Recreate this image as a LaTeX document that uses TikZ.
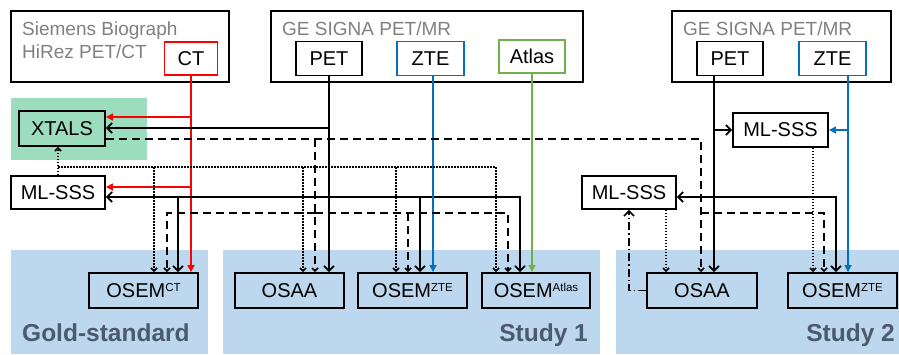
\documentclass[tikz,border=0pt]{standalone}
\usepackage{fontspec}
\setmainfont{Liberation Sans}
\usetikzlibrary{arrows.meta}
\definecolor{ctred}{RGB}{255,0,0}
\definecolor{zteblue}{RGB}{0,112,192}
\definecolor{atlasgreen}{RGB}{112,176,72}
\definecolor{xtalsbg}{RGB}{155,221,188}
\definecolor{studybg}{RGB}{189,215,238}
\definecolor{titlegray}{RGB}{128,128,128}
\definecolor{studytext}{RGB}{76,90,110}
\newcommand{\osem}[1]{OSEM\raisebox{5.5pt}{\fontsize{11.5}{11.5}\selectfont #1}}

\begin{document}
\begin{tikzpicture}[x=1pt,y=-1pt,
  scanner/.style={draw, line width=1.9pt, minimum height=71pt},
  box/.style={draw, line width=1.9pt, inner sep=0pt, minimum height=34pt, font=\fontsize{20}{23}\selectfont},
  title/.style={inner sep=0pt, text=titlegray, font=\fontsize{19}{22}\selectfont},
  study/.style={inner sep=0pt, text=studytext, font=\bfseries\fontsize{24.5}{28}\selectfont},
  emis/.style={line width=1.7pt, -{Straight Barb[length=5pt,width=10pt]}},
  mumap/.style={line width=1.5pt, dash pattern=on 8pt off 5pt, -{Straight Barb[length=3pt,width=6pt]}},
  scat/.style={line width=1.5pt, dash pattern=on 1.5pt off 1.5pt, -{Straight Barb[length=3pt,width=6pt]}},
  feed/.style={line width=1.5pt, dash pattern=on 8pt off 3pt on 1.5pt off 3pt, -{Straight Barb[length=5pt,width=10pt]}},
  ctline/.style={ctred, line width=1.6pt, -{Triangle[length=7pt,width=7pt]}},
  zteline/.style={zteblue, line width=1.6pt, -{Triangle[length=7pt,width=7pt]}},
  atlasline/.style={atlasgreen, line width=1.6pt, -{Triangle[length=7pt,width=7pt]}}]
\useasboundingbox (0,0) rectangle (899,354);
% backgrounds
\fill[xtalsbg] (11,98) rectangle (147,160);
\fill[studybg] (11,250) rectangle (208,354);
\fill[studybg] (223,250) rectangle (600,354);
\fill[studybg] (616,250) rectangle (899,354);
\node[study, anchor=base west] (goldlabel) at (22,341) {Gold-standard};
\node[study, anchor=base east] (study1label) at (588,341) {Study 1};
\node[study, anchor=base east] (study2label) at (895,341) {Study 2};
% scanners
\node[scanner, minimum width=218pt] (siemens) at (120,46.5) {};
\node[scanner, minimum width=312pt] (ge1) at (427,46.5) {};
\node[scanner, minimum width=219pt] (ge2) at (781.5,46.5) {};
\node[title, anchor=base west] (siemenstitle) at (22,35) {Siemens Biograph};
\node[title, anchor=base west] (hireztitle) at (22,58) {HiRez PET/CT};
\node[title, anchor=base west] (ge1title) at (282,35) {GE SIGNA PET/MR};
\node[title, anchor=base west] (ge2title) at (683,35) {GE SIGNA PET/MR};
\node[box, draw=ctred, minimum width=53pt, minimum height=33pt] (ct) at (191,58.5) {CT};
\node[box, minimum width=66pt] (pet1) at (329,58.5) {PET};
\node[box, draw=zteblue, minimum width=67pt] (zte1) at (430.5,58.5) {ZTE};
\node[box, draw=atlasgreen, minimum width=66pt, minimum height=33pt] (atlas) at (532,56.5) {Atlas};
\node[box, minimum width=66pt] (pet2) at (730,58.5) {PET};
\node[box, draw=zteblue, minimum width=67pt] (zte2) at (832.5,58.5) {ZTE};
% corrections
\node[box, minimum width=86pt, minimum height=35pt] (xtals) at (62,128.5) {XTALS};
\node[box, minimum width=94pt, minimum height=33pt] (mlsss) at (58,192.5) {ML-SSS};
\node[box, minimum width=95pt] (mlsssb) at (780.5,130) {ML-SSS};
\node[box, minimum width=94pt, minimum height=33pt] (mlsssc) at (629,192.5) {ML-SSS};
% reconstructions
\node[box, minimum width=109pt, minimum height=35pt] (osemct) at (143.5,290.5) {\osem{CT}};
\node[box, minimum width=109pt, minimum height=35pt] (osaa1) at (289.5,290.5) {OSAA};
\node[box, minimum width=109pt, minimum height=35pt] (osemzte1) at (412.5,290.5) {\osem{ZTE}};
\node[box, minimum width=108pt, minimum height=35pt] (osematlas) at (536,290.5) {\osem{Atlas}};
\node[box, minimum width=110pt, minimum height=35pt] (osaa2) at (702,290.5) {OSAA};
\node[box, minimum width=109pt, minimum height=35pt] (osemzte2) at (842.5,290.5) {\osem{ZTE}};
% rows of the buses
\coordinate (redA) at (0,117);
\coordinate (pethi) at (0,128);
\coordinate (dashhi) at (0,139);
\coordinate (dotrow) at (0,167);
\coordinate (redB) at (0,187);
\coordinate (solidrow) at (0,197);
\coordinate (dashlo) at (0,213);
% CT
\draw[ctline] (ct.south) -- (ct.south |- osemct.north);
\draw[ctline] (ct.south |- redA) -- (xtals.east |- redA);
\draw[ctline] (ct.south |- redB) -- (mlsss.east |- redB);
% PET, study 1
\draw[emis] (pet1.south) -- (pet1.south |- osaa1.north);
\draw[emis] (pet1.south |- pethi) -- (xtals.east |- pethi);
\draw[emis] (pet1.south |- solidrow) -- (mlsss.east |- solidrow);
\draw[emis] (pet1.south |- solidrow) -| (520,0 |- osematlas.north);
\foreach \x/\r in {178/osemct, 420/osemzte1}
  \draw[emis] (\x,0 |- solidrow) -- (\x,0 |- \r.north);
\draw[zteline] (433,0 |- zte1.south) -- (433,0 |- osemzte1.north);
\draw[atlasline] (atlas.south) -- (atlas.south |- osematlas.north);
% XTALS mu-map
\draw[mumap] (xtals.east |- dashhi) -| (701,0 |- osaa2.north);
\draw[mumap] (315,0 |- dashhi) -- (315,0 |- osaa1.north);
\draw[mumap] (315,0 |- dashlo) -| (167,0 |- osemct.north);
\draw[mumap] (315,0 |- dashlo) -| (508,0 |- osematlas.north);
\draw[mumap] (408,0 |- dashlo) -- (408,0 |- osemzte1.north);
% ML-SSS scatter
\draw[scat] (mlsss.north) -- (mlsss.north |- xtals.south);
\draw[scat] (mlsss.north |- dotrow) -| (496,0 |- osematlas.north);
\foreach \x/\r in {154/osemct, 303/osaa1, 396/osemzte1}
  \draw[scat] (\x,0 |- dotrow) -- (\x,0 |- \r.north);
% study 2
\draw[emis] (714,0 |- pet2.south) -- (714,0 |- osaa2.north);
\draw[emis] (714,0 |- mlsssb.west) -- (mlsssb.west);
\draw[emis] (714,0 |- solidrow) -- (mlsssc.east |- solidrow);
\draw[emis] (714,0 |- solidrow) -| (836,0 |- osemzte2.north);
\draw[zteline] (848,0 |- zte2.south) -- (848,0 |- osemzte2.north);
\draw[zteline] (848,0 |- mlsssb.east) -- (mlsssb.east);
\draw[mumap] (701,0 |- dashlo) -| (824,0 |- osemzte2.north);
\draw[scat] (813,0 |- mlsssb.south) -- (813,0 |- osemzte2.north);
\draw[scat] (666,0 |- mlsssc.south) -- (666,0 |- osaa2.north);
\draw[feed] (osaa2.west) -| (mlsssc.south);
\end{tikzpicture}
\end{document}
